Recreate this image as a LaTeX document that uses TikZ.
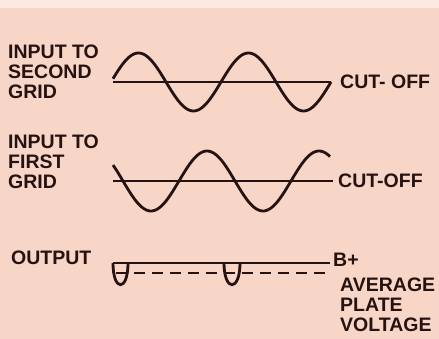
\documentclass[tikz,border=0pt]{standalone}
\usepackage{fontspec}
\setmainfont{Liberation Sans}
\usepackage{tikz}
\usetikzlibrary{positioning}
\definecolor{paper}{RGB}{247,214,199}
\definecolor{paperlight}{RGB}{251,234,226}
\definecolor{ink}{RGB}{38,18,16}
\tikzset{
	tagtext/.style={font=\fontsize{19.5}{20}\selectfont\bfseries, text=ink, inner sep=0pt, align=left}
}
\tikzset{
	wave/.style={ink, line width=2.8pt, line join=round}
}
\tikzset{
	refline/.style={ink, line width=2.8pt}
}

\begin{document}
\begin{tikzpicture}[x=1pt,y=-1pt]
      % paper
      \fill[paper] (0,0) rectangle (439,339);
      \fill[paperlight] (0,0) rectangle (439,8);
      \useasboundingbox (0,0) rectangle (439,339);

      % input to second grid
      \node[tagtext, anchor=west] (second) at (8,72) {INPUT TO\\SECOND\\GRID};
      \coordinate (c1a) at (113,82);
      \coordinate (c1b) at (331,82);
      \node[tagtext, anchor=west] (cut1) at (340,82) {CUT- OFF};
      \draw[refline] (c1a) -- (c1b);
      \draw[wave] plot[domain=113:331, samples=120] (\x,{82-29*sin(3.27273*(\x-111))});

      % input to first grid
      \node[tagtext, anchor=west] (first) at (8,162) {INPUT TO\\FIRST\\GRID};
      \coordinate (c2a) at (113,181);
      \coordinate (c2b) at (333,181);
      \node[tagtext, anchor=west] (cut2) at (338,181) {CUT-OFF};
      \draw[refline] (c2a) -- (c2b);
      \draw[wave] plot[domain=113:330, samples=120] (\x,{181+30*sin(3.21429*(\x-123))});

      % output
      \node[tagtext, anchor=west] (out) at (11,258) {OUTPUT};
      \coordinate (b1) at (113,263);
      \coordinate (b2) at (330,263);
      \node[tagtext, anchor=west] (bplus) at (333,260) {B+};
      \draw[refline] (b1) -- (b2);
      \coordinate (a1) at (116,273);
      \coordinate (a2) at (328,273);
      \node[tagtext, anchor=north west] (avg) at (340,278) {AVERAGE\\PLATE\\VOLTAGE};
      \draw[refline, dash pattern=on 11pt off 7pt] (a1) -- (a2);
      \draw[wave] (113,263) .. controls (113,292) and (128,292) .. (128,263);
      \draw[wave] (224,263) .. controls (224,292) and (240,292) .. (240,263);
    \end{tikzpicture}
\end{document}
